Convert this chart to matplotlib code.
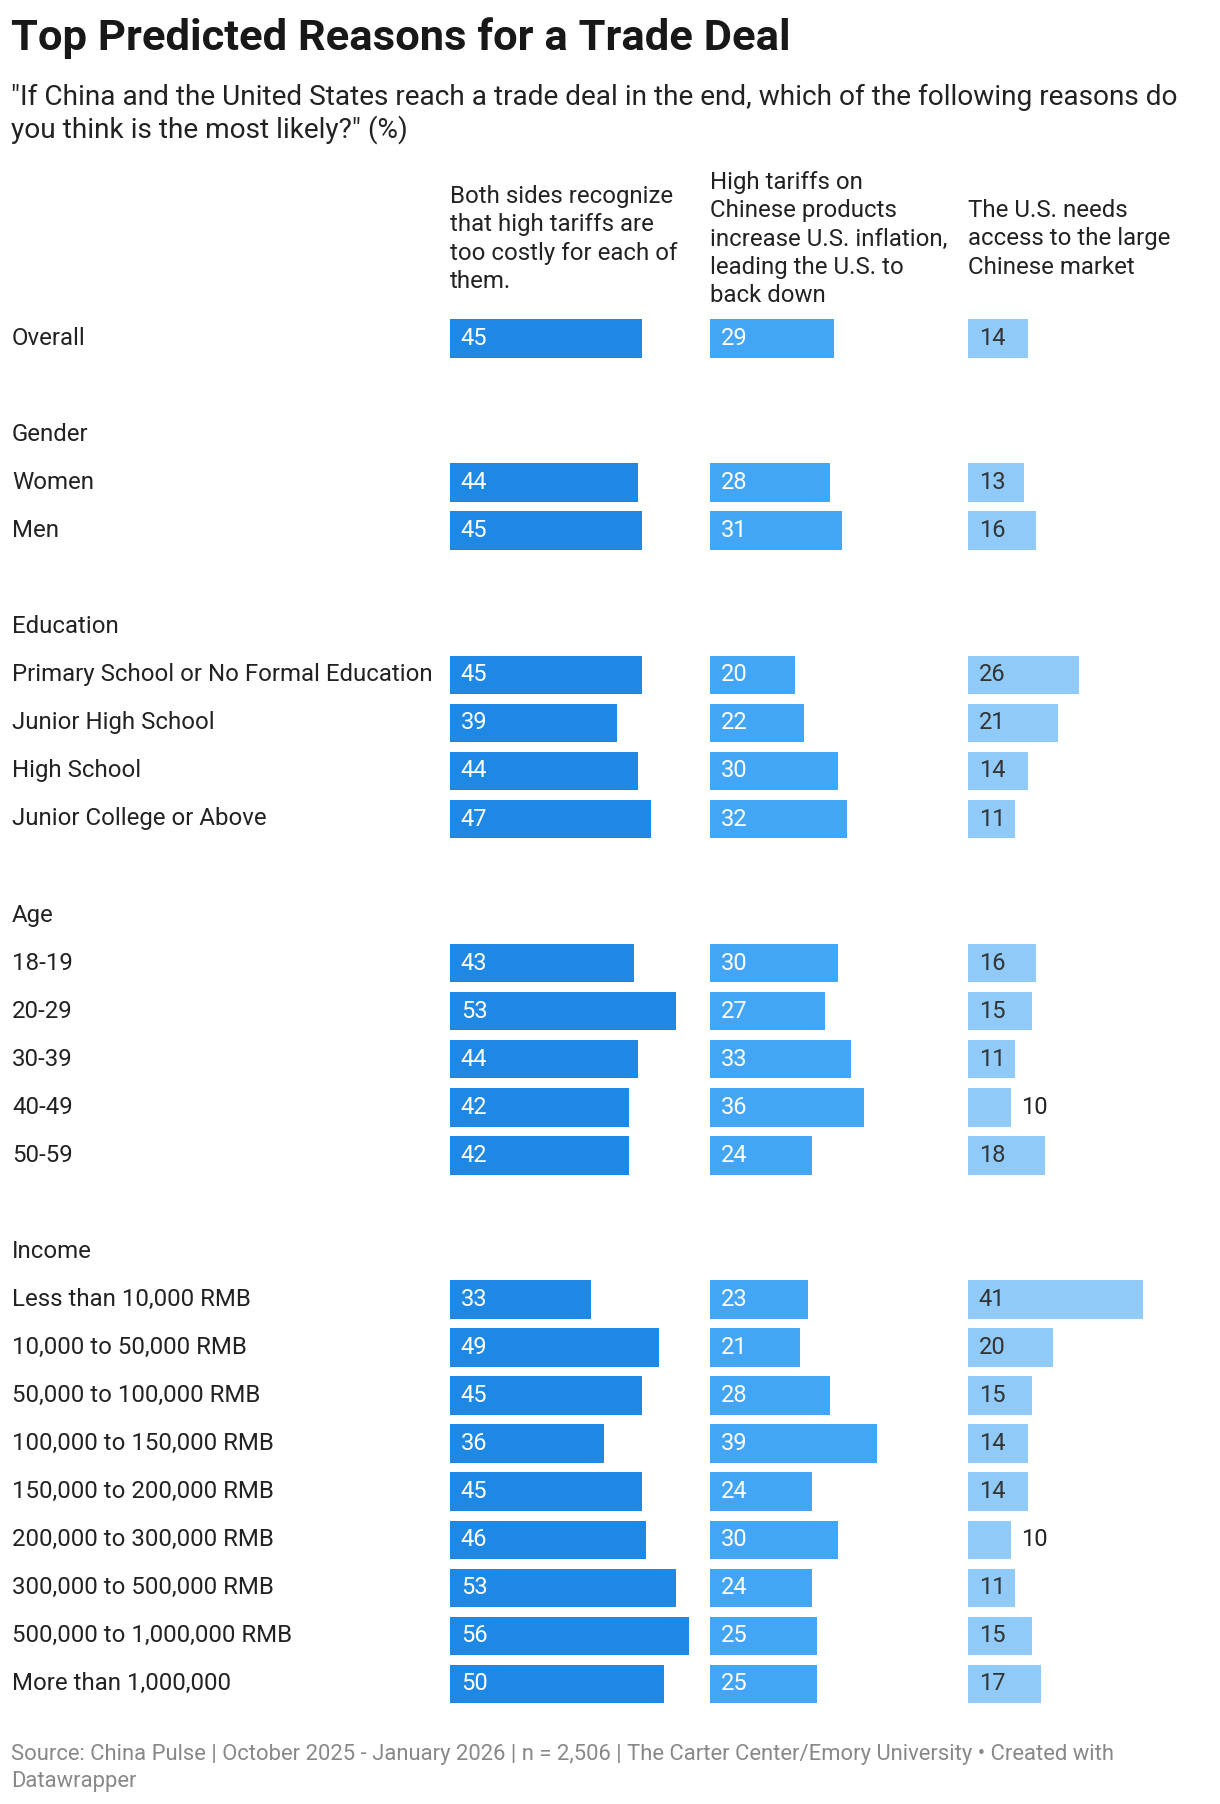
import matplotlib.pyplot as plt
from matplotlib.transforms import blended_transform_factory

plt.rcParams["font.family"] = ["Roboto", "DejaVu Sans"]

title = "Top Predicted Reasons for a Trade Deal"
subtitle = ('"If China and the United States reach a trade deal in the end, which of the following reasons do\n'
            'you think is the most likely?" (%)')
footer = ("Source: China Pulse | October 2025 - January 2026 | n = 2,506 | The Carter Center/Emory University \u2022 Created with\n"
          "Datawrapper")

headers = [
    "Both sides recognize\nthat high tariffs are\ntoo costly for each of\nthem.",
    "High tariffs on\nChinese products\nincrease U.S. inflation,\nleading the U.S. to\nback down",
    "The U.S. needs\naccess to the large\nChinese market",
]

# None = blank spacer row, group headings have no values
labels = [
    "Overall", None, "Gender", "Women", "Men", None,
    "Education", "Primary School or No Formal Education", "Junior High School",
    "High School", "Junior College or Above", None,
    "Age", "18-19", "20-29", "30-39", "40-49", "50-59", None,
    "Income", "Less than 10,000 RMB", "10,000 to 50,000 RMB", "50,000 to 100,000 RMB",
    "100,000 to 150,000 RMB", "150,000 to 200,000 RMB", "200,000 to 300,000 RMB",
    "300,000 to 500,000 RMB", "500,000 to 1,000,000 RMB", "More than 1,000,000",
]
both_sides = [45, None, None, 44, 45, None, None, 45, 39, 44, 47, None,
              None, 43, 53, 44, 42, 42, None, None, 33, 49, 45, 36, 45, 46, 53, 56, 50]
inflation = [29, None, None, 28, 31, None, None, 20, 22, 30, 32, None,
             None, 30, 27, 33, 36, 24, None, None, 23, 21, 28, 39, 24, 30, 24, 25, 25]
market = [14, None, None, 13, 16, None, None, 26, 21, 14, 11, None,
          None, 16, 15, 11, 10, 18, None, None, 41, 20, 15, 14, 14, 10, 11, 15, 17]

series = [both_sides, inflation, market]
colors = ["#1e88e5", "#42a5f5", "#90caf9"]
value_colors = ["white", "white", "#333333"]

W, H = 1220, 1804
fig = plt.figure(figsize=(W / 100, H / 100), dpi=100)

row0, step = 338.5, 48.05
n = len(labels)
ax_bottom = 1 - (row0 + (n - 0.5) * step) / H
ax_height = n * step / H
col_left = [450, 710, 968]
px_per_pt = 4.27
xmax = 58

fig.text(11 / W, 1 - 38 / H, title, fontsize=31.3, fontweight="bold", color="#181818",
         va="center", ha="left")
fig.text(11 / W, 1 - 114 / H, subtitle, fontsize=20.2, color="#222222",
         va="center", ha="left", linespacing=1.22)

axes = []
for i, (vals, col, vc) in enumerate(zip(series, colors, value_colors)):
    ax = fig.add_axes([col_left[i] / W, ax_bottom, xmax * px_per_pt / W, ax_height])
    ax.set_xlim(0, xmax)
    ax.set_ylim(n - 0.5, -0.5)
    ax.axis("off")
    rows = [r for r, v in enumerate(vals) if v is not None]
    v = [vals[r] for r in rows]
    ax.barh(rows, v, height=0.8, color=col)
    for r, val in zip(rows, v):
        if val < 11:
            ax.annotate(str(val), (val, r), xytext=(7.5, 0), textcoords="offset points",
                        ha="left", va="center", fontsize=17, color="#222222")
        else:
            ax.annotate(str(val), (0, r), xytext=(7.8, 0), textcoords="offset points",
                        ha="left", va="center", fontsize=17, color=vc)
    fig.text(col_left[i] / W, 1 - 239 / H, headers[i], fontsize=17.25, color="#222222",
             ha="left", va="center", linespacing=1.29)
    axes.append(ax)

tr = blended_transform_factory(fig.transFigure, axes[0].transData)
for r, lab in enumerate(labels):
    if lab:
        axes[0].text(12 / W, r, lab, transform=tr, ha="left", va="center",
                     fontsize=17.25, color="#222222")

fig.text(11 / W, 1 - 1768 / H, footer, fontsize=15.8, color="#888888",
         ha="left", va="center", linespacing=1.37)

fig.savefig("out.png", dpi=100)
